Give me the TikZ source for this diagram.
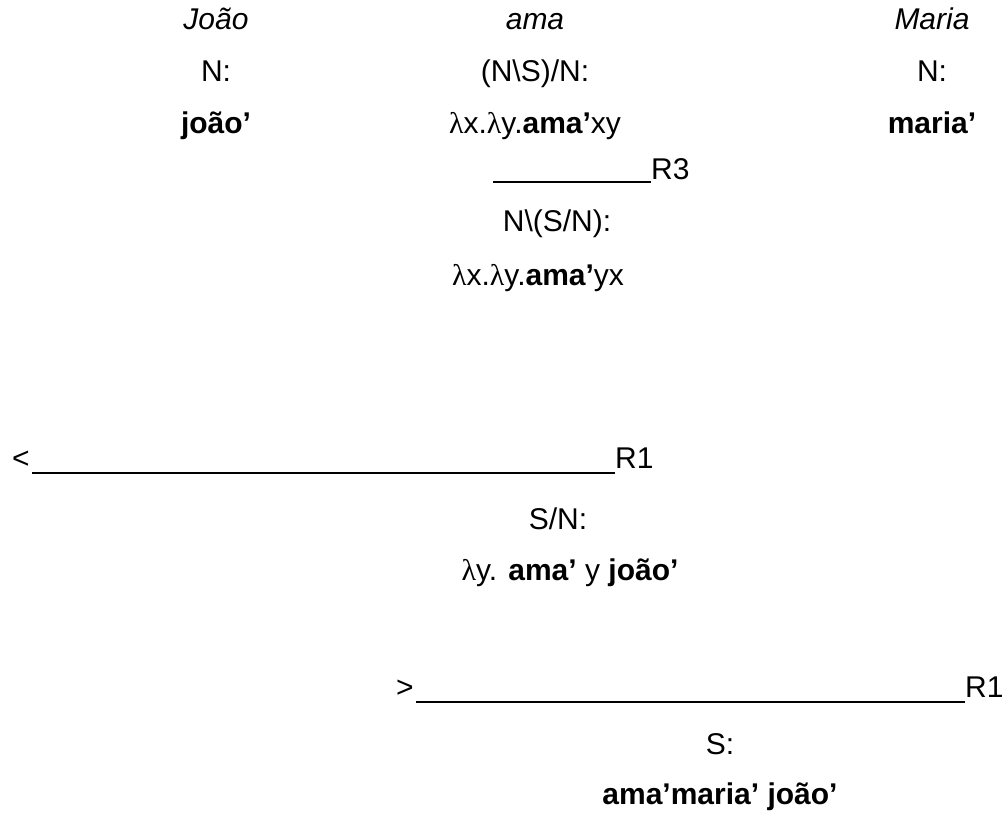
\documentclass[tikz,border=0pt]{standalone}
\usepackage{fontspec}
\setmainfont{Liberation Sans}
\newfontfamily\lamfont{Liberation Serif}
\newcommand{\lam}{{\lamfont λ}}

\tikzset{
  word/.style={anchor=base, inner sep=0pt, font=\fontsize{30}{36}\selectfont\itshape},
  cat/.style={anchor=base, inner sep=0pt, font=\fontsize{30}{36}\selectfont},
  rule/.style={line width=2pt},
}

\begin{document}
\begin{tikzpicture}[x=1pt, y=-1pt]
\useasboundingbox (0,0) rectangle (1008,821);

% Lexical entries, one column per word
\node[word] (joao) at (216,30) {João};
\node[cat] (joaoCat) at (216,82) {N:};
\node[cat] (joaoSem) at (216,134) {\textbf{joão’}};

\node[word] (ama) at (535,30) {ama};
\node[cat] (amaCat) at (535,82) {(N\textbackslash S)/N:};
\node[cat] (amaSem) at (535,134) {\lam x.\lam y.\textbf{ama’}xy};

\node[word] (maria) at (932,30) {Maria};
\node[cat] (mariaCat) at (932,82) {N:};
\node[cat] (mariaSem) at (932,134) {\textbf{maria’}};

% R3 step on the verb
\node[cat, anchor=base west] (rThree) at (651,179) {R3};
\coordinate (ruleR3) at (493,182);
\draw[rule] (ruleR3) -- (ruleR3 -| rThree.west);
\node[cat] (permCat) at (557,231) {N\textbackslash(S/N):};
\node[cat] (permSem) at (538,285) {\lam x.\lam y.\textbf{ama’}yx};

% backward application with the subject
\node[cat, anchor=base west] (lt) at (12,468) {<};
\node[cat, anchor=base west] (rOneA) at (615,468) {R1};
\coordinate (ruleA) at (32,473);
\draw[rule] (ruleA) -- (ruleA -| rOneA.west);
\node[cat] (vpCat) at (558,529) {S/N:};
\node[cat] (vpSem) at (570,580) {\lam y. \textbf{ama’} y \textbf{joão’}};

% forward application with the object
\node[cat, anchor=base west] (gt) at (396,697) {>};
\node[cat, anchor=base west] (rOneB) at (965,697) {R1};
\coordinate (ruleB) at (416,702);
\draw[rule] (ruleB) -- (ruleB -| rOneB.west);
\node[cat] (sCat) at (720,754) {S:};
\node[cat] (sSem) at (720,804) {\textbf{ama’maria’ joão’}};
\end{tikzpicture}
\end{document}
